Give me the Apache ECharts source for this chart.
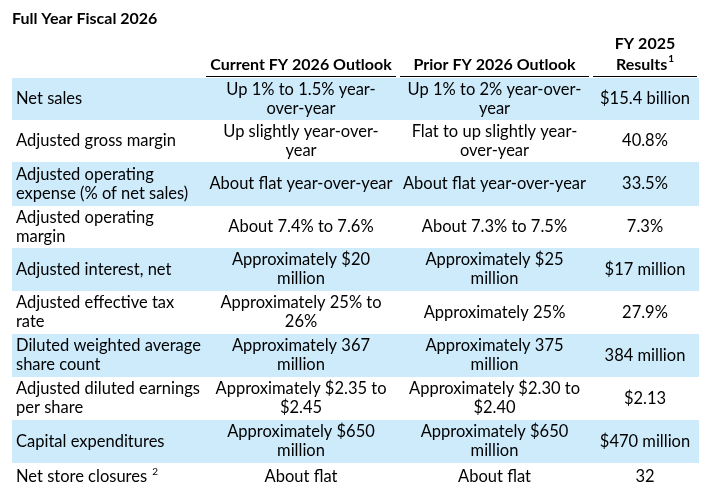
<!DOCTYPE html>
<html>
<head>
<meta charset="utf-8">
<script src="https://cdn.jsdelivr.net/npm/echarts@6/dist/echarts.min.js"></script>
<style>html,body{margin:0;padding:0;background:#fff}#main{width:710px;height:504px}</style>
</head>
<body>
<div id="main"></div>
<script>
// table contents
var title = 'Full Year Fiscal 2026';
var headers = ['', 'Current FY 2026 Outlook', 'Prior FY 2026 Outlook', 'FY 2025\nResults{sup|1}'];
var metrics = ['Net sales', 'Adjusted gross margin', 'Adjusted operating\nexpense (% of net sales)',
  'Adjusted operating\nmargin', 'Adjusted interest, net', 'Adjusted effective tax\nrate',
  'Diluted weighted average\nshare count', 'Adjusted diluted earnings\nper share',
  'Capital expenditures', 'Net store closures {sup|2}'];
var currentOutlook = ['Up 1% to 1.5% year-\nover-year', 'Up slightly year-over-\nyear', 'About flat year-over-year',
  'About 7.4% to 7.6%', 'Approximately $20\nmillion', 'Approximately 25% to\n26%',
  'Approximately 367\nmillion', 'Approximately $2.35 to\n$2.45', 'Approximately $650\nmillion', 'About flat'];
var priorOutlook = ['Up 1% to 2% year-over-\nyear', 'Flat to up slightly year-\nover-year', 'About flat year-over-year',
  'About 7.3% to 7.5%', 'Approximately $25\nmillion', 'Approximately 25%',
  'Approximately 375\nmillion', 'Approximately $2.30 to\n$2.40', 'Approximately $650\nmillion', 'About flat'];
var fy2025 = ['$15.4 billion', '40.8%', '33.5%', '7.3%', '$17 million', '27.9%',
  '384 million', '$2.13', '$470 million', '32'];

// layout
var colX = [12, 204, 398, 591, 699];
var rowY = [78, 120, 162, 206, 248, 291, 334, 377, 420, 463, 490];
var font = 'Lato, "Open Sans", sans-serif';
function richFor(weight) {
  return { sup: { fontSize: 10, fontWeight: weight, fontFamily: font, fill: '#000', verticalAlign: 'top', lineHeight: 12, padding: [0, 0, 8, 1] } };
}

var chart = echarts.init(document.getElementById('main'));
var els = [];
els.push({ type: 'text', left: 12, top: 11, style: { text: title, font: 'bold 16px ' + font, fill: '#000' } });

headers.forEach(function (h, c) {
  if (!h) return;
  els.push({ type: 'text', x: (colX[c] + colX[c + 1]) / 2, y: 75,
    style: { text: h, fontFamily: font, fontSize: 16, fontWeight: 'bold', fill: '#000', align: 'center', verticalAlign: 'bottom', lineHeight: 21, rich: richFor('bold') } });
  els.push({ type: 'line', shape: { x1: colX[c] + 2, y1: 76.5, x2: colX[c + 1] - 2, y2: 76.5 }, style: { stroke: '#000', lineWidth: 1.2 } });
});

var cols = [metrics, currentOutlook, priorOutlook, fy2025];
metrics.forEach(function (m, r) {
  var y0 = rowY[r], y1 = rowY[r + 1];
  if (r % 2 === 0) {
    els.push({ type: 'rect', shape: { x: colX[0], y: y0, width: colX[4] - colX[0], height: y1 - y0 }, style: { fill: '#cdebfb' } });
  }
  cols.forEach(function (arr, c) {
    var left = c === 0;
    els.push({ type: 'text', x: left ? colX[0] + 4 : (colX[c] + colX[c + 1]) / 2, y: (y0 + y1) / 2,
      style: { text: arr[r], fontFamily: font, fontSize: 16.5, fill: '#000', align: left ? 'left' : 'center', verticalAlign: 'middle', lineHeight: 19, rich: richFor('normal') } });
  });
});

chart.setOption({ animation: false, graphic: { elements: els } });
</script>
</body>
</html>
